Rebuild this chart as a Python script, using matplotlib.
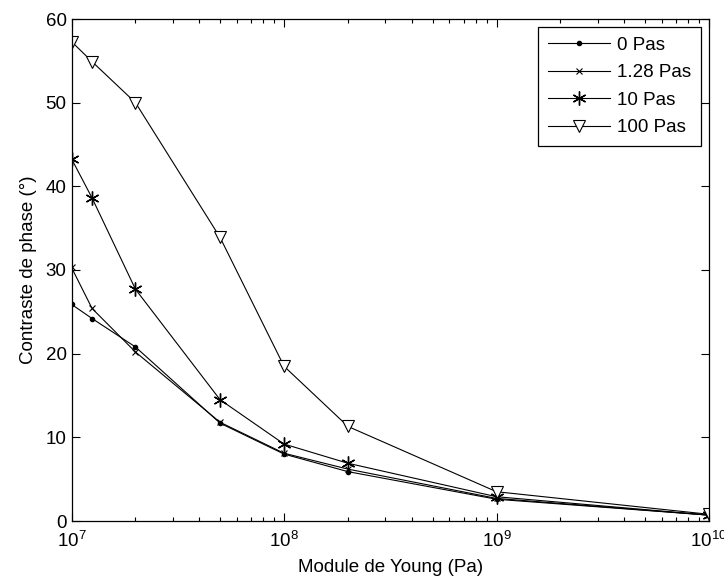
import matplotlib
matplotlib.use("Agg")
import matplotlib.pyplot as plt
import numpy as np

plt.rcParams['font.family'] = ['Liberation Sans', 'DejaVu Sans']

young = [1e7, 1.25e7, 2e7, 5e7, 1e8, 2e8, 1e9, 1e10]
labels = ["0 Pas", "1.28 Pas", "10 Pas", "100 Pas"]
c_0 = [25.9, 24.2, 20.8, 11.7, 8.0, 5.9, 2.6, 0.7]
c_128 = [30.3, 25.4, 20.2, 11.8, 8.1, 6.2, 2.7, 0.7]
c_10 = [43.3, 38.6, 27.7, 14.5, 9.2, 6.9, 2.9, 0.7]
c_100 = [57.3, 54.9, 50.0, 33.9, 18.5, 11.3, 3.5, 0.8]

fs = 13.5
fig = plt.figure(figsize=(7.24, 5.81), dpi=100)
ax = fig.add_axes([71.5/724, 1 - 521/581, (709 - 71.5)/724, (521 - 19)/581])

lw = 0.8
ax.plot(young, c_0, color='k', lw=lw, marker='.', ms=6, label=labels[0])
ax.plot(young, c_128, color='k', lw=lw, marker='x', ms=5, mew=0.8, label=labels[1])
ax.plot(young, c_10, color='k', lw=lw, marker=(6, 2, 0), ms=10, mew=1.0, label=labels[2])
ax.plot(young, c_100, color='k', lw=lw, marker='v', ms=9, mew=0.8, mfc='white', label=labels[3])

ax.set_xscale('log')
ax.set_xlim(1e7, 1e10)
ax.set_ylim(0, 60)
ax.set_yticks([0, 10, 20, 30, 40, 50, 60])
ax.tick_params(which='both', direction='in', top=True, right=True, labelsize=fs, width=0.8)
ax.tick_params(axis='x', which='major', pad=7)
ax.tick_params(which='major', length=6)
ax.tick_params(which='minor', length=3)
for s in ax.spines.values():
    s.set_linewidth(0.9)

ax.set_xlabel("Module de Young (Pa)", fontsize=fs, labelpad=6)
ax.set_ylabel("Contraste de phase (°)", fontsize=fs, labelpad=6)

leg = ax.legend(loc='upper right', fontsize=fs, fancybox=False, edgecolor='k',
                framealpha=1, borderpad=0.5, handlelength=3.3, labelspacing=0.55,
                handletextpad=0.4, borderaxespad=0.45)
leg.get_frame().set_linewidth(0.9)

fig.savefig("out.png", dpi=100)
